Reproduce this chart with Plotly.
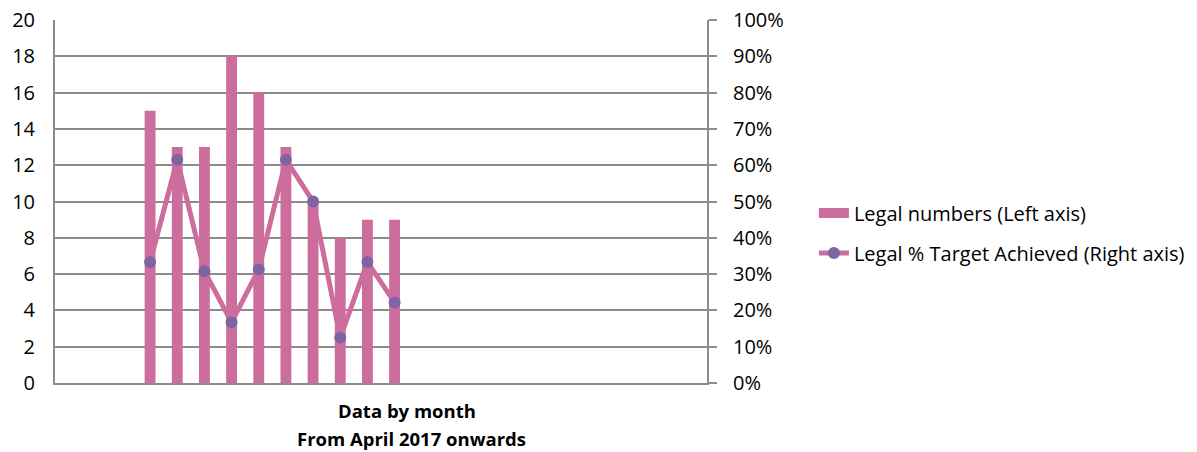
import plotly.graph_objects as go

# Months on the category axis (24 slots, only 10 with data)
months = list(range(24))
legal_numbers = [None, None, None, 15, 13, 13, 18, 16, 13, 10, 8, 9, 9] + [None] * 11
target_achieved = [None, None, None, 33.3, 61.5, 30.8, 16.7, 31.3, 61.5, 50.0, 12.5, 33.3, 22.2] + [None] * 11

left_ticks = list(range(0, 21, 2))
right_ticks = list(range(0, 101, 10))
right_labels = [f"{v}%" for v in right_ticks]

pink = "#CD6D9D"
purple = "#7F64A3"
grid = "#8C8C8C"
font = "Open Sans"

fig = go.Figure()

fig.add_trace(go.Bar(x=months, y=legal_numbers, name="Legal numbers (Left axis)",
                     marker=dict(color=pink, line=dict(width=0)),
                     showlegend=False))
# legend entry drawn as a wide block like the original
fig.add_trace(go.Scatter(x=[None], y=[None], mode="lines", name="Legal numbers (Left axis)",
                         line=dict(color=pink, width=13), legendgroup="a"))
fig.add_trace(go.Scatter(x=months, y=target_achieved, yaxis="y2",
                         name="Legal % Target Achieved (Right axis)",
                         mode="lines+markers",
                         line=dict(color=pink, width=5),
                         marker=dict(color=purple, size=12),
                         connectgaps=False, legendgroup="b"))

fig.update_layout(
    width=1197, height=452,
    margin=dict(l=55, r=490, t=20, b=69, autoexpand=False),
    plot_bgcolor="white", paper_bgcolor="white",
    font=dict(family=font, size=20, color="black"),
    bargap=0.6,
    showlegend=True,
    legend=dict(x=1.164, xanchor="left", y=0.413, yanchor="middle",
                font=dict(size=20), tracegroupgap=11,
                bgcolor="rgba(0,0,0,0)"),
    xaxis=dict(range=[-0.5, 23.5], showticklabels=False, showgrid=False,
               showline=True, linecolor=grid, linewidth=2, ticks="", zeroline=False,
               automargin=False),
    yaxis=dict(range=[0, 20], tickvals=left_ticks, showgrid=True, gridcolor=grid,
               gridwidth=1.5, showline=True, linecolor=grid, linewidth=2,
               ticks="", ticklabelstandoff=14, zeroline=False, automargin=False,
               ticklabeloverflow="allow"),
    yaxis2=dict(range=[0, 100], tickvals=right_ticks, ticktext=right_labels,
                overlaying="y", side="right", showgrid=False, showline=True,
                linecolor=grid, linewidth=2, ticks="outside", ticklen=8,
                tickcolor=grid, tickwidth=1.5, ticklabelstandoff=12, zeroline=False,
                automargin=False, ticklabeloverflow="allow"),
)

fig.add_annotation(text="<b>Data by month</b>", xref="paper", yref="paper",
                   x=0.54, y=-0.077, xanchor="center", yanchor="middle",
                   showarrow=False, font=dict(family=font, size=18.5))
fig.add_annotation(text="<b>From April 2017 onwards</b>", xref="paper", yref="paper",
                   x=0.547, y=-0.152, xanchor="center", yanchor="middle",
                   showarrow=False, font=dict(family=font, size=18.5))

# drop the default 8px page margin so the chart sits at the window corner
fig.write_html("out.html", config={"displayModeBar": False},
               post_script="document.body.style.margin='0';")
